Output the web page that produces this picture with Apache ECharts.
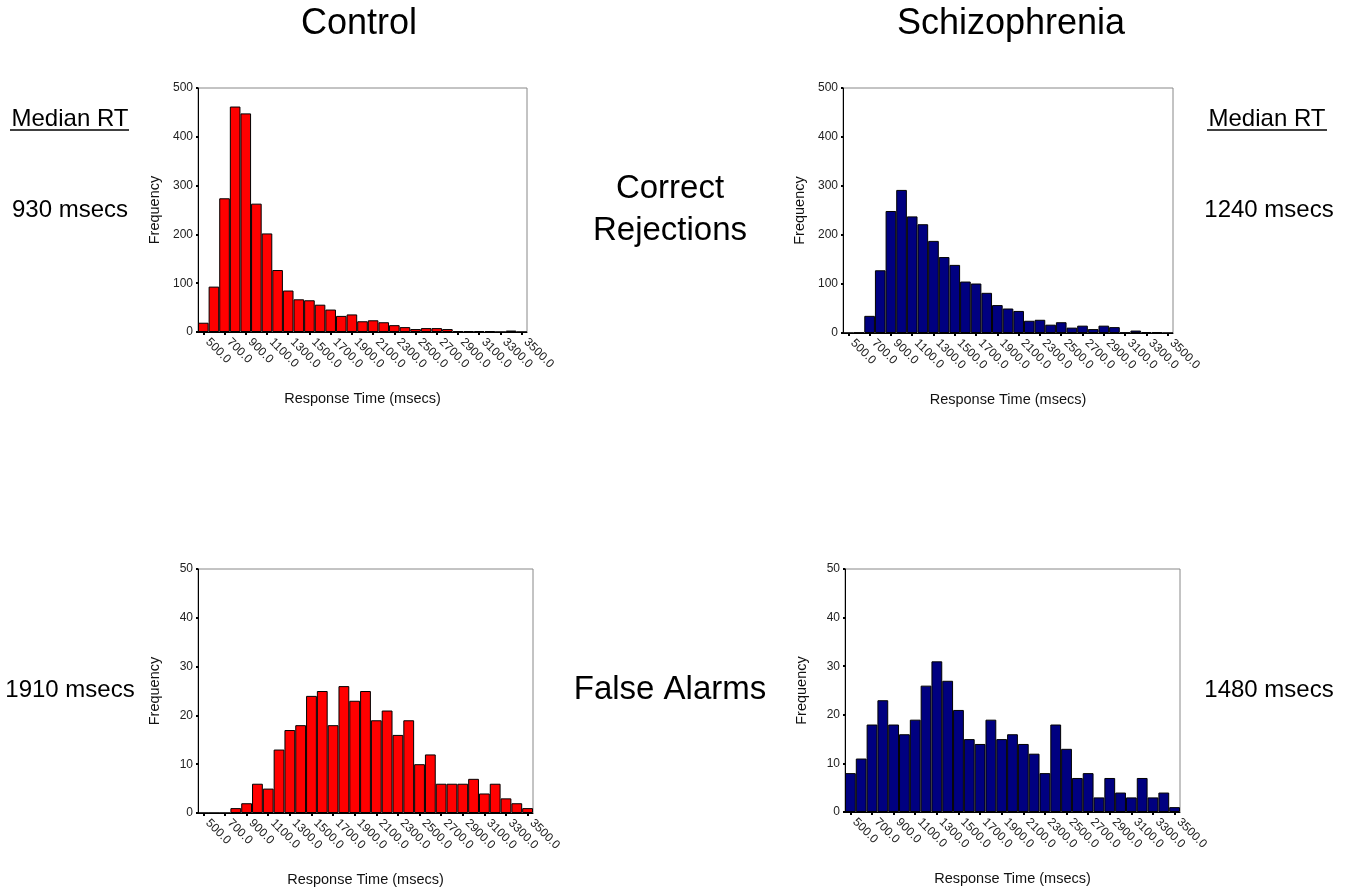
<!DOCTYPE html>
<html>
<head>
<meta charset="utf-8">
<script src="https://cdn.jsdelivr.net/npm/echarts@6/dist/echarts.min.js"></script>
<style>
html,body{margin:0;padding:0;background:#fff;}
#c{width:1353px;height:895px;}
</style>
</head>
<body>
<div id="c"></div>
<script>
// Bin centres (msecs), 100 ms bins
var categories = ["500.0","600.0","700.0","800.0","900.0","1000.0","1100.0","1200.0","1300.0","1400.0",
  "1500.0","1600.0","1700.0","1800.0","1900.0","2000.0","2100.0","2200.0","2300.0","2400.0",
  "2500.0","2600.0","2700.0","2800.0","2900.0","3000.0","3100.0","3200.0","3300.0","3400.0","3500.0"];

// Correct Rejections frequencies
var controlCR = [19, 93, 274, 462, 448, 263, 202, 127, 85, 67, 65, 56, 46, 33, 36, 22, 24, 20, 14, 10, 6, 8, 8, 6, 2, 2, 2, 2, 0, 3, 0];
var schizCR   = [0, 1, 35, 128, 249, 292, 238, 222, 188, 155, 139, 105, 101, 82, 57, 50, 45, 25, 27, 17, 22, 11, 15, 8, 15, 12, 1, 5, 2, 2, 0];

// False Alarms frequencies
var controlFA = [0, 0, 0, 1, 2, 6, 5, 13, 17, 18, 24, 25, 18, 26, 23, 25, 19, 21, 16, 19, 10, 12, 6, 6, 6, 7, 4, 6, 3, 2, 1];
var schizFA   = [8, 11, 18, 23, 18, 16, 19, 26, 31, 27, 21, 15, 14, 19, 15, 16, 14, 12, 8, 18, 13, 7, 8, 3, 7, 4, 3, 7, 3, 4, 1];

// y-axis ranges
var crMax = 500, crStep = 100;
var faMax = 50, faStep = 10;

var groupTitles = ["Control", "Schizophrenia"];
var rowTitles = ["Correct\nRejections", "False Alarms"];
var medianLabel = "Median RT";
var medians = ["930 msecs", "1240 msecs", "1910 msecs", "1480 msecs"];
var xName = "Response Time (msecs)";
var yName = "Frequency";

var FONT = "'Liberation Sans', Arial, Helvetica, sans-serif";
var RED = "#FF0000", NAVY = "#000080";

var grids = [
  {left:198, top:88, width:329, height:244},
  {left:843, top:88, width:330, height:245},
  {left:198, top:569, width:335, height:244},
  {left:845, top:569, width:335, height:243}
];

function mkX(i){
  return {
    type:'category', gridIndex:i, data:categories, boundaryGap:true,
    name:xName, nameLocation:'middle', nameGap:59,
    nameTextStyle:{fontFamily:FONT, fontSize:14.5, color:'#111'},
    axisLine:{show:true, lineStyle:{color:'#000', width:1}},
    axisTick:{show:true, interval:1, alignWithLabel:true, length:3, lineStyle:{color:'#000', width:2}},
    axisLabel:{interval:1, rotate:-45, margin:4, padding:[0,0,0,6], fontFamily:FONT, fontSize:12, color:'#222'},
    splitLine:{show:false}
  };
}
function mkY(i, max, step){
  return {
    type:'value', gridIndex:i, min:0, max:max, interval:step,
    name:yName, nameLocation:'middle', nameGap:36,
    nameTextStyle:{fontFamily:FONT, fontSize:14.5, color:'#111'},
    axisLine:{show:true, lineStyle:{color:'#000', width:1}},
    axisTick:{show:true, length:2, lineStyle:{color:'#000', width:2}},
    axisLabel:{margin:5, fontFamily:FONT, fontSize:12, color:'#222'},
    splitLine:{show:false}
  };
}
function mkS(i, data, color){
  return {
    type:'bar', xAxisIndex:i, yAxisIndex:i, data:data, barCategoryGap:'0%',
    itemStyle:{color:color, borderColor:'#000', borderWidth:1},
    silent:true, animation:false
  };
}

function txt(t, x, y, size){
  return {type:'text', x:x, y:y, silent:true,
    style:{text:t, fill:'#000', font:size+'px '+FONT, fontSize:size, fontFamily:FONT,
      textAlign:'center', textVerticalAlign:'middle', align:'center', verticalAlign:'middle', lineHeight:42}};
}

var chart = echarts.init(document.getElementById('c'), null, {renderer:'canvas'});
chart.setOption({
  backgroundColor:'#fff',
  animation:false,
  grid: grids.map(function(g){ return Object.assign({show:true, borderColor:'#888', borderWidth:1, backgroundColor:'transparent'}, g); }),
  xAxis:[mkX(0), mkX(1), mkX(2), mkX(3)],
  yAxis:[mkY(0,crMax,crStep), mkY(1,crMax,crStep), mkY(2,faMax,faStep), mkY(3,faMax,faStep)],
  series:[mkS(0,controlCR,RED), mkS(1,schizCR,NAVY), mkS(2,controlFA,RED), mkS(3,schizFA,NAVY)],
  graphic:[
    txt(groupTitles[0], 359, 24, 36),
    txt(groupTitles[1], 1011, 24, 36),
    txt(rowTitles[0], 670, 210, 33),
    txt(rowTitles[1], 670, 690, 33),
    txt(medianLabel, 70, 119, 24),
    txt(medianLabel, 1267, 119, 24),
    {type:'line', silent:true, shape:{x1:10, y1:130, x2:129, y2:130}, style:{stroke:'#000', lineWidth:1.5}},
    {type:'line', silent:true, shape:{x1:1207, y1:130, x2:1327, y2:130}, style:{stroke:'#000', lineWidth:1.5}},
    txt(medians[0], 70, 210, 24),
    txt(medians[1], 1269, 210, 24),
    txt(medians[2], 70, 690, 24),
    txt(medians[3], 1269, 690, 24)
  ]
});
</script>
</body>
</html>
